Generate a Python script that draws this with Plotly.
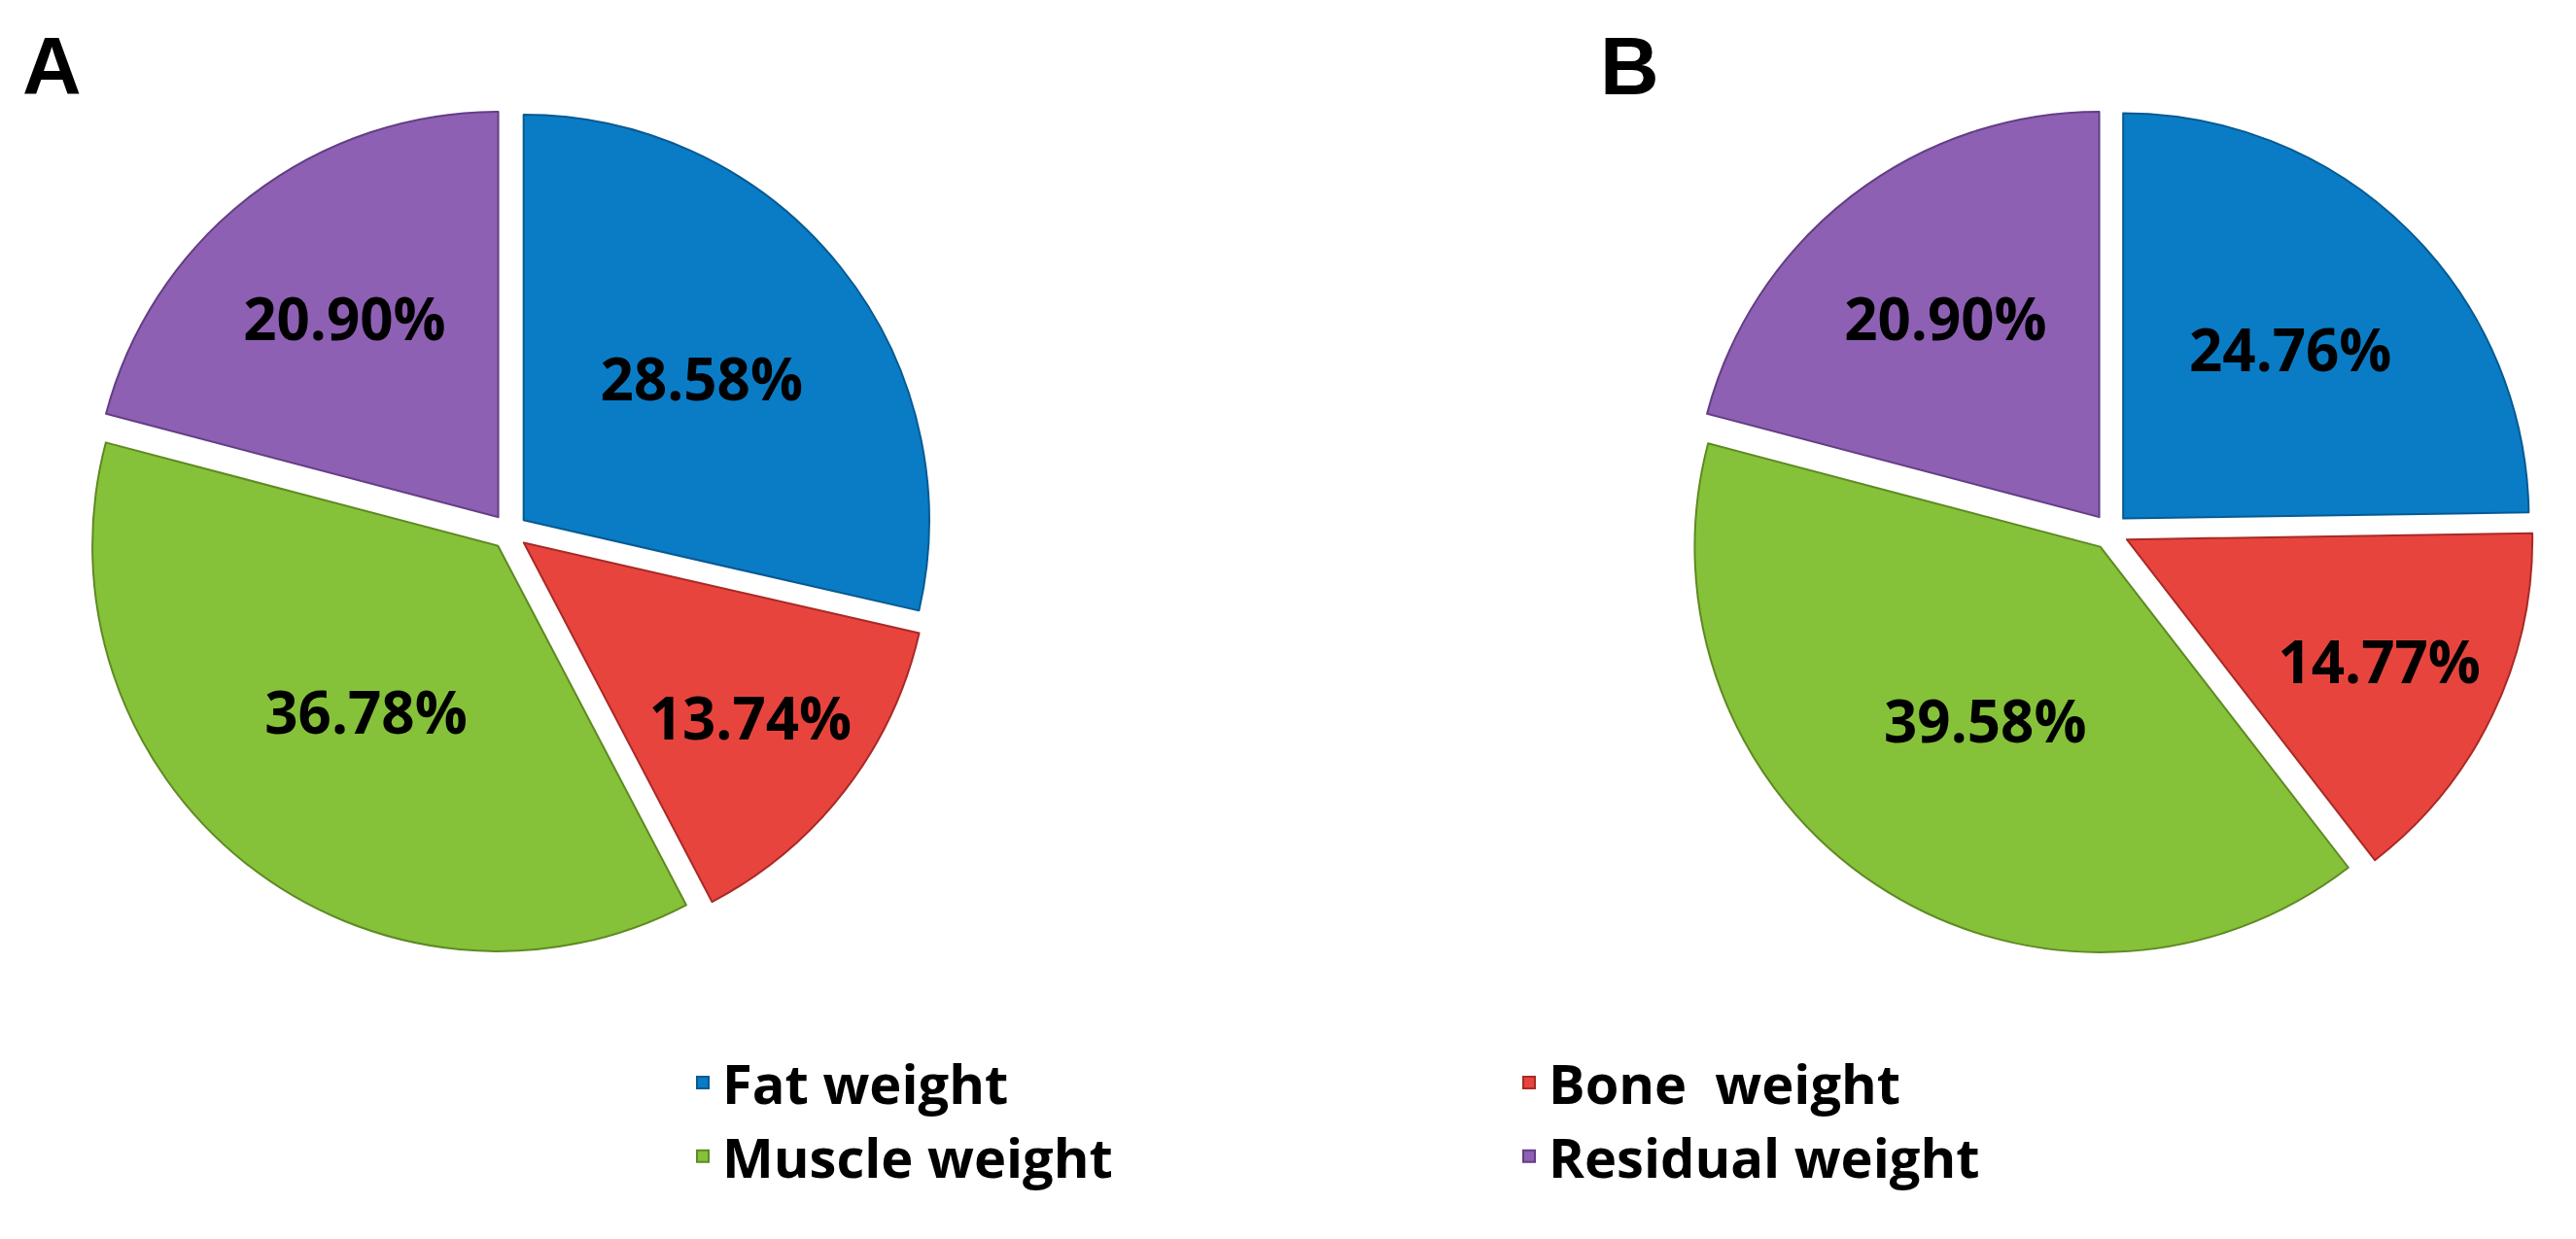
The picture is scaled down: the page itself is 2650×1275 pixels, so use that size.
import plotly.graph_objects as go

labels = ["Fat weight", "Bone  weight", "Muscle weight", "Residual weight"]
values_a = [28.58, 13.74, 36.78, 20.90]
values_b = [24.76, 14.77, 39.58, 20.90]
panel_titles = ["A", "B"]

colors = ["#0A7CC6", "#E8443E", "#86C13A", "#8E60B4"]
edge_colors = ["#075A92", "#A82A26", "#5E8A22", "#633E85"]

W, H = 2650, 1275
ML, MR = 70, 40
PW = W - ML - MR


def px_x(a, b):
    return [(a - ML) / PW, (b - ML) / PW]


def px_y(top, bottom):
    return [1 - bottom / H, 1 - top / H]


def make_pie(values, xdom, ydom, show):
    return go.Pie(
        labels=labels,
        values=values,
        sort=False,
        direction="clockwise",
        rotation=0,
        pull=[0.045] * len(values),
        domain=dict(x=xdom, y=ydom),
        marker=dict(colors=colors, line=dict(color=edge_colors, width=2)),
        texttemplate="%{value:.2f}%",
        textposition="inside",
        insidetextorientation="horizontal",
        textfont=dict(family="Open Sans", size=60, color="#000000", weight="bold"),
        showlegend=show,
        hoverinfo="label+value",
    )


HALF = 436
fig = go.Figure()
fig.add_trace(make_pie(values_a, px_x(516 - HALF, 516 + HALF), px_y(539 - HALF, 539 + HALF), True))
fig.add_trace(make_pie(values_b, px_x(2163 - HALF, 2163 + HALF), px_y(539 - HALF, 539 + HALF), False))

for t, xc in zip(panel_titles, [45, 1668]):
    fig.add_annotation(text="<b>%s</b>" % t, x=(xc - ML) / PW, y=1 - 60 / H,
                       xref="paper", yref="paper", xanchor="center", yanchor="middle",
                       showarrow=False,
                       font=dict(family="Liberation Sans", size=84, color="#000000"))

fig.update_layout(
    width=W,
    height=H,
    margin=dict(l=ML, r=MR, t=0, b=0, autoexpand=False),
    paper_bgcolor="white",
    plot_bgcolor="white",
    legend=dict(
        orientation="h",
        x=(695 - ML) / PW,
        xanchor="left",
        y=1 - 1063 / H,
        yanchor="top",
        entrywidth=805,
        font=dict(family="Open Sans", size=56, color="#000000", weight="bold"),
        traceorder="normal",
        bgcolor="rgba(0,0,0,0)",
    ),
)

fig.write_html("out.html")
